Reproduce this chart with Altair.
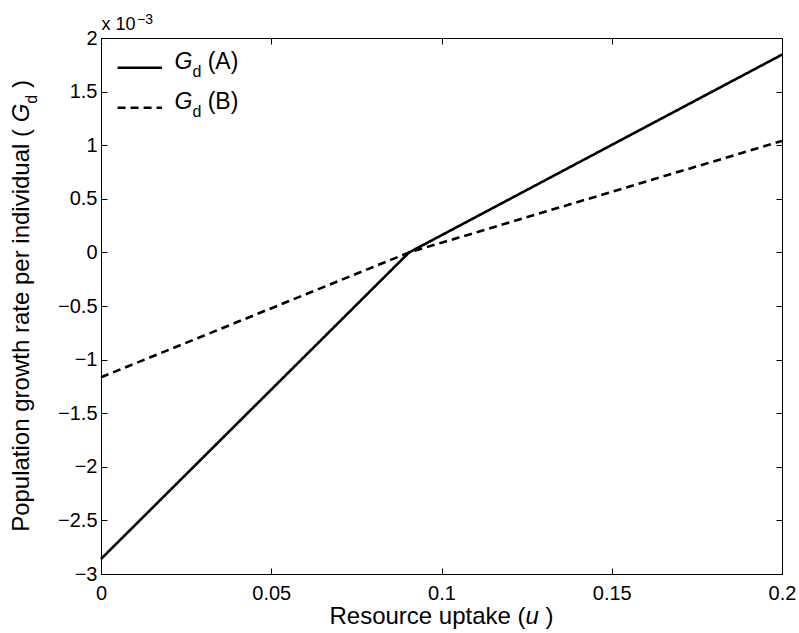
import altair as alt
import pandas as pd

# ---- data ----
u_points = [0.0, 0.0905, 0.2]
gd_A = [-2.86e-3, 0.0, 1.845e-3]
gd_B = [-1.165e-3, 0.0, 1.04e-3]
series_names = ["A", "B"]
x_ticks = [0, 0.05, 0.1, 0.15, 0.2]
y_ticks = [-0.003, -0.0025, -0.002, -0.0015, -0.001, -0.0005, 0, 0.0005, 0.001, 0.0015, 0.002]

rows = []
for name, vals in zip(series_names, [gd_A, gd_B]):
    for u, g in zip(u_points, vals):
        rows.append({"series": name, "u": u, "g": g})
df = pd.DataFrame(rows)
anno = pd.DataFrame({"k": [0]})

FONT = "Liberation Sans"
W, H = 681, 536

# Arial advance widths (per 1000 em) for positioning text pieces
AW = {" ": 278, "(": 333, ")": 333, ".": 278, "0": 556, "1": 556, "3": 556, "A": 667, "B": 667,
      "G": 778, "P": 667, "R": 722, "a": 556, "c": 500, "d": 556, "e": 556, "g": 556, "h": 556,
      "i": 222, "k": 500, "l": 222, "n": 556, "o": 556, "p": 556, "r": 333, "s": 500, "t": 278,
      "u": 556, "v": 500, "w": 722, "x": 500, "\u2212": 584}


def tw(s, size):
    return sum(AW.get(c, 556) for c in s) / 1000.0 * size


def txt(text, x, y, size, italic=False, angle=0, align="left", baseline="alphabetic"):
    return alt.Chart(anno).mark_text(
        text=text, font=FONT, fontSize=size, fontStyle="italic" if italic else "normal",
        align=align, baseline=baseline, angle=angle, color="black"
    ).encode(x=alt.value(x), y=alt.value(y))


xscale = alt.Scale(domain=[0, 0.2], nice=False, zero=False)
yscale = alt.Scale(domain=[-0.003, 0.002], nice=False, zero=False)
dash = alt.StrokeDash("series:N", scale=alt.Scale(domain=series_names, range=[[1, 0], [8, 5]]), legend=None)

TICKFS = 20
lines = alt.Chart(df).mark_line(color="black", strokeWidth=2.6).encode(
    x=alt.X("u:Q", scale=xscale, axis=alt.Axis(
        orient="bottom", values=x_ticks, format="~g", ticks=False, tickSize=0, domain=False, grid=False,
        labelPadding=9, labelFont=FONT, labelFontSize=TICKFS, labelColor="black", labelFlush=False,
        labelOverlap=False, title=None)),
    y=alt.Y("g:Q", scale=yscale, axis=alt.Axis(
        orient="left", values=y_ticks, labelExpr="format(datum.value*1000, '~g')", ticks=False, tickSize=0,
        domain=False, grid=False, labelPadding=4, labelFont=FONT, labelFontSize=TICKFS, labelColor="black",
        labelFlush=False, labelOverlap=False, title=None)),
    strokeDash=dash,
    detail="series:N",
)


def tick_layer(xo, yo):
    return alt.Chart(df).mark_line(opacity=0).encode(
        x=alt.X("u:Q", scale=xscale, axis=alt.Axis(
            orient=xo, values=x_ticks, labels=False, domain=False, grid=False, ticks=True, tickSize=6,
            tickColor="black", tickWidth=1, offset=-6, title=None)),
        y=alt.Y("g:Q", scale=yscale, axis=alt.Axis(
            orient=yo, values=y_ticks, labels=False, domain=False, grid=False, ticks=True, tickSize=6,
            tickColor="black", tickWidth=1, offset=-6, title=None)),
        detail="series:N",
    )


ticks_bl = tick_layer("bottom", "left")
ticks_tr = tick_layer("top", "right")

# ---- x title: Resource uptake (u ) ----  pieces: (text, size, italic, gap before in px)
FX = 24
xp = [("Resource uptake (", FX, False, 0), ("u", FX, True, 0), (")", FX, False, tw(" ", FX))]
xw = sum(tw(s, f) + g for s, f, _, g in xp)
cx = W / 2 - xw / 2
x_title = []
for s, f, it, g in xp:
    cx += g
    x_title.append(txt(s, cx, H + 50, f, italic=it))
    cx += tw(s, f)

# ---- y title: Population growth rate per individual ( G_d ) ----
FY, FS = 24, 16
ybase = -72.4
yp = [("Population growth rate per individual (", FY, False, 0, 0), ("G", FY, True, 0, tw(" ", FY)),
      ("d", FS, False, 8, 0), (")", FY, False, 0, tw(" ", FY))]
yl = sum(tw(s, f) + g for s, f, _, _, g in yp)
cy = H / 2 + yl / 2
y_title = []
for s, f, it, sh, g in yp:
    cy -= g
    y_title.append(txt(s, ybase + sh, cy, f, italic=it, angle=270))
    cy -= tw(s, f)

# ---- exponent note ----
expo = [txt("x 10", 0.5, -7.6, 18), txt("\u22123", 0.5 + tw("x 10", 18) + 1.5, -14, 14)]

# ---- legend ----
FL = 23
leg = []
for i, (name, dpat) in enumerate(zip(series_names, [[1, 0], [8, 5]])):
    ly = 29.7 + 40 * i
    leg.append(alt.Chart(anno).mark_rule(color="black", strokeWidth=2.6, strokeDash=dpat).encode(
        x=alt.value(16.6), x2=alt.value(61), y=alt.value(ly)))
    gx = 73.5
    leg.append(txt("G", gx, ly + 1.5, FL, italic=True))
    gx += tw("G", FL)
    leg.append(txt("d", gx, ly + 9.3, FS))
    gx += tw("d", FS) + tw(" ", FL)
    leg.append(txt("(" + name + ")", gx, ly + 1.5, FL))

chart = alt.layer(lines, ticks_bl, ticks_tr, *x_title, *y_title, *expo, *leg).resolve_axis(
    x="independent", y="independent"
).properties(
    width=W, height=H,
    autosize=alt.AutoSizeParams(type="none"),
    padding={"left": 101, "top": 38, "right": 799 - 101 - W, "bottom": 633 - 38 - H},
    background="white",
).configure_view(stroke="black", strokeWidth=1)

chart.save("out.html", embed_options={"renderer": "svg", "actions": False})
